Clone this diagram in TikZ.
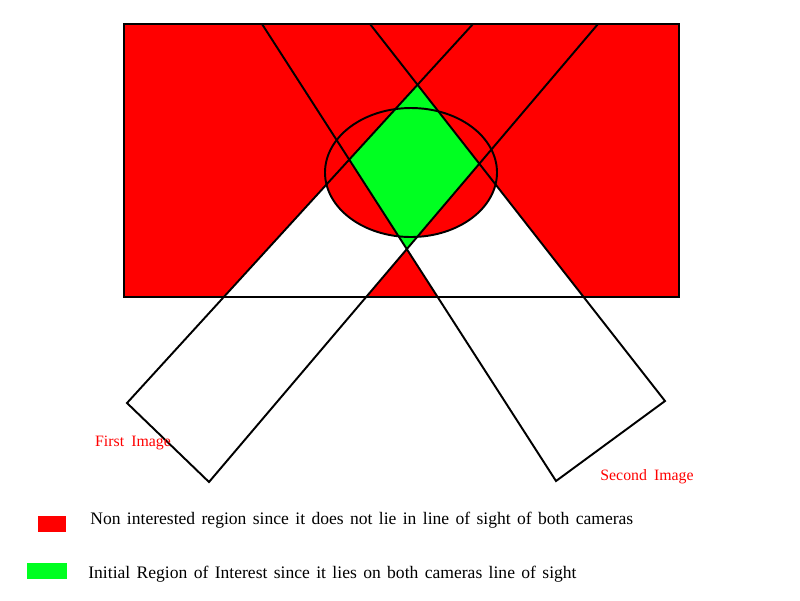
\documentclass[tikz,border=0pt]{standalone}
\usepackage{fontspec}
\setmainfont{Liberation Serif}[WordSpace=1.8]
\newfontfamily\legendfont{Liberation Serif}[WordSpace=1.45]
\definecolor{roired}{RGB}{255,0,0}
\definecolor{roigreen}{RGB}{0,255,33}

\begin{document}
\begin{tikzpicture}[x=0.02cm, y=-0.02cm,
    edge/.style={black, line width=1.1pt},
    camlabel/.style={font=\fontsize{9}{10}\selectfont, text=roired},
    legendtext/.style={font=\legendfont\fontsize{10}{12}\selectfont, anchor=west, inner sep=0pt}]
  \useasboundingbox (0,0) rectangle (800,600);
  % scene corners
  \coordinate (sceneNW) at (124,24);
  \coordinate (sceneSE) at (679,297);
  % first camera strip
  \coordinate (fstOutA) at (127,403); \coordinate (fstOutB) at (473,24);
  \coordinate (fstInA) at (209,482);  \coordinate (fstInB) at (598,24);
  % second camera strip
  \coordinate (sndInA) at (556,481);  \coordinate (sndInB) at (262,24);
  \coordinate (sndOutA) at (665,401); \coordinate (sndOutB) at (370,24);
  % diamond corners
  \coordinate (roiL) at (intersection of fstOutA--fstOutB and sndInA--sndInB);
  \coordinate (roiT) at (intersection of fstOutA--fstOutB and sndOutA--sndOutB);
  \coordinate (roiB) at (intersection of fstInA--fstInB and sndInA--sndInB);
  \coordinate (roiR) at (intersection of fstInA--fstInB and sndOutA--sndOutB);
  % background region
  \fill[roired] (sceneNW) rectangle (sceneSE);
  \begin{scope}
    \clip (sceneNW) rectangle (sceneSE);
    \fill[white] (fstOutA) -- (roiL) -- (roiB) -- (fstInA) -- cycle;
    \fill[white] (sndInA) -- (roiB) -- (roiR) -- (sndOutA) -- cycle;
  \end{scope}
  \fill[roired] (411,172.5) ellipse [x radius=86, y radius=64.5];
  % region of interest
  \fill[roigreen] (roiT) -- (roiR) -- (roiB) -- (roiL) -- cycle;
  \draw[edge] (411,172.5) ellipse [x radius=86, y radius=64.5];
  % lines of sight
  \draw[edge] (fstOutB) -- (fstOutA) -- (fstInA) -- (fstInB);
  \draw[edge] (sndInB) -- (sndInA) -- (sndOutA) -- (sndOutB);
  \draw[edge] (sceneNW) rectangle (sceneSE);
  % camera labels
  \node[camlabel] (fstLabel) at (133,443) {First Image};
  \node[camlabel] (sndLabel) at (647,477) {Second Image};
  % legend
  \fill[roired] (38,516) rectangle (66,532);
  \node[legendtext] (redText) at (90,520) {Non interested region since it does not lie in line of sight of both cameras};
  \fill[roigreen] (27,563) rectangle (67,579);
  \node[legendtext] (greenText) at (88,574) {Initial Region of Interest since it lies on both cameras line of sight};
\end{tikzpicture}
\end{document}
